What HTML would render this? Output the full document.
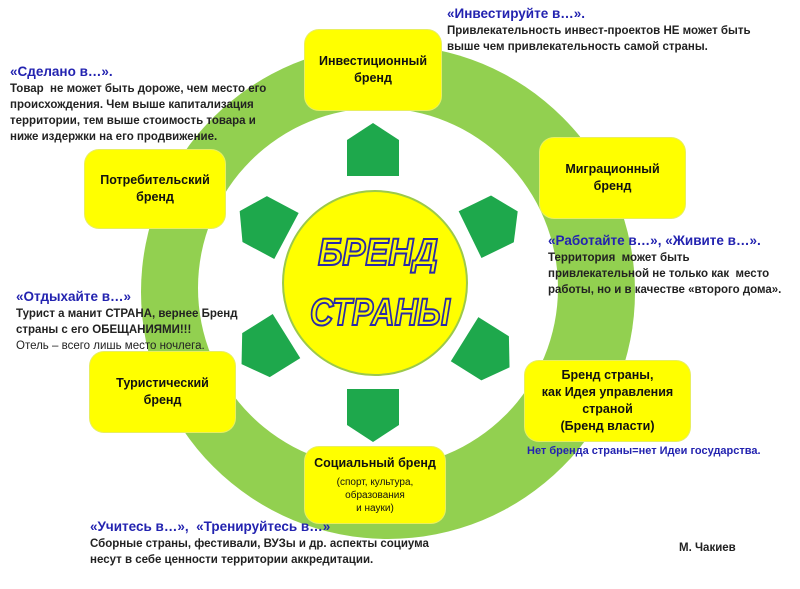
<!DOCTYPE html>
<html><head><meta charset="utf-8"><style>
body{margin:0;width:800px;height:589px;background:#fff;position:relative;overflow:hidden;font-family:"Liberation Sans","DejaVu Sans",sans-serif;}
.t{position:absolute;font-size:11.5px;font-weight:bold;color:#222;line-height:16px;}
.h{color:#2323b0;font-size:13.5px;}
.b{position:absolute;background:#ffff00;border-radius:14px;box-shadow:0 0 0 1px #e8ee60;display:flex;align-items:center;justify-content:center;text-align:center;font-weight:bold;font-size:12.5px;color:#111;line-height:17px;}
</style></head><body>
<svg width="800" height="589" style="position:absolute;left:0;top:0">
<circle cx="388" cy="292" r="247" fill="#92d050"/>
<circle cx="378" cy="288" r="180" fill="#fff"/>
<g fill="#1ea84c">
<g transform="translate(373,282) rotate(0) translate(0,-132)"><polygon points="-26,26 26,26 26,-10 0,-27 -26,-10"/></g>
<g transform="translate(373,282) rotate(64) translate(0,-134)"><polygon points="-26,26 26,26 26,-10 0,-27 -26,-10"/></g>
<g transform="translate(373,282) rotate(122) translate(0,-134)"><polygon points="-26,26 26,26 26,-10 0,-27 -26,-10"/></g>
<g transform="translate(373,282) rotate(180) translate(0,-133)"><polygon points="-26,26 26,26 26,-10 0,-27 -26,-10"/></g>
<g transform="translate(373,282) rotate(238) translate(0,-128)"><polygon points="-26,26 26,26 26,-10 0,-27 -26,-10"/></g>
<g transform="translate(373,282) rotate(298) translate(0,-124)"><polygon points="-26,26 26,26 26,-10 0,-27 -26,-10"/></g>
</g>
<circle cx="375" cy="283" r="92" fill="#ffff00" stroke="#9cc94a" stroke-width="2"/>
<text x="378" y="265" text-anchor="middle" font-family="Liberation Sans" font-weight="bold" font-style="italic" font-size="38" fill="#ffff00" stroke="#2a2aa8" stroke-width="2" textLength="120" lengthAdjust="spacingAndGlyphs">БРЕНД</text>
<text x="380" y="325" text-anchor="middle" font-family="Liberation Sans" font-weight="bold" font-style="italic" font-size="38" fill="#ffff00" stroke="#2a2aa8" stroke-width="2" textLength="140" lengthAdjust="spacingAndGlyphs">СТРАНЫ</text>
</svg>
<div class="b" style="left:305px;top:30px;width:136px;height:80px">Инвестиционный<br>бренд</div>
<div class="b" style="left:540px;top:138px;width:145px;height:80px">Миграционный<br>бренд</div>
<div class="b" style="left:85px;top:150px;width:140px;height:78px">Потребительский<br>бренд</div>
<div class="b" style="left:90px;top:352px;width:145px;height:80px">Туристический<br>бренд</div>
<div class="b" style="left:525px;top:361px;width:165px;height:80px">Бренд страны,<br>как Идея управления<br>страной<br>(Бренд власти)</div>
<div class="b" style="left:305px;top:447px;width:140px;height:76px;flex-direction:column">Социальный бренд<span style="font-weight:normal;font-size:10px;line-height:13px;margin-top:4px">(спорт, культура,<br>образования<br>и науки)</span></div>
<div class="t" style="left:447px;top:6px"><span class="h">«Инвестируйте в…».</span><br>Привлекательность инвест-проектов НЕ может быть<br>выше чем привлекательность самой страны.</div>
<div class="t" style="left:10px;top:64px"><span class="h">«Сделано в…».</span><br>Товар&nbsp; не может быть дороже, чем место его<br>происхождения. Чем выше капитализация<br>территории, тем выше стоимость товара и<br>ниже издержки на его продвижение.</div>
<div class="t" style="left:548px;top:233px"><span class="h">«Работайте в…», «Живите в…».</span><br>Территория&nbsp; может быть<br>привлекательной не только как&nbsp; место<br>работы, но и в качестве «второго дома».</div>
<div class="t" style="left:16px;top:289px"><span class="h">«Отдыхайте в…»</span><br>Турист а манит СТРАНА, вернее Бренд<br>страны с его ОБЕЩАНИЯМИ!!!<br><span style="font-weight:normal">Отель – всего лишь место ночлега.</span></div>
<div class="t" style="left:527px;top:443px;color:#2323b0;font-size:11px">Нет бренда страны=нет Идеи государства.</div>
<div class="t" style="left:90px;top:519px"><span class="h">«Учитесь в…»,&nbsp; «Тренируйтесь в…»</span><br>Сборные страны, фестивали, ВУЗы и др. аспекты социума<br>несут в себе ценности территории аккредитации.</div>
<div class="t" style="left:679px;top:540px">М. Чакиев</div>
</body></html>
